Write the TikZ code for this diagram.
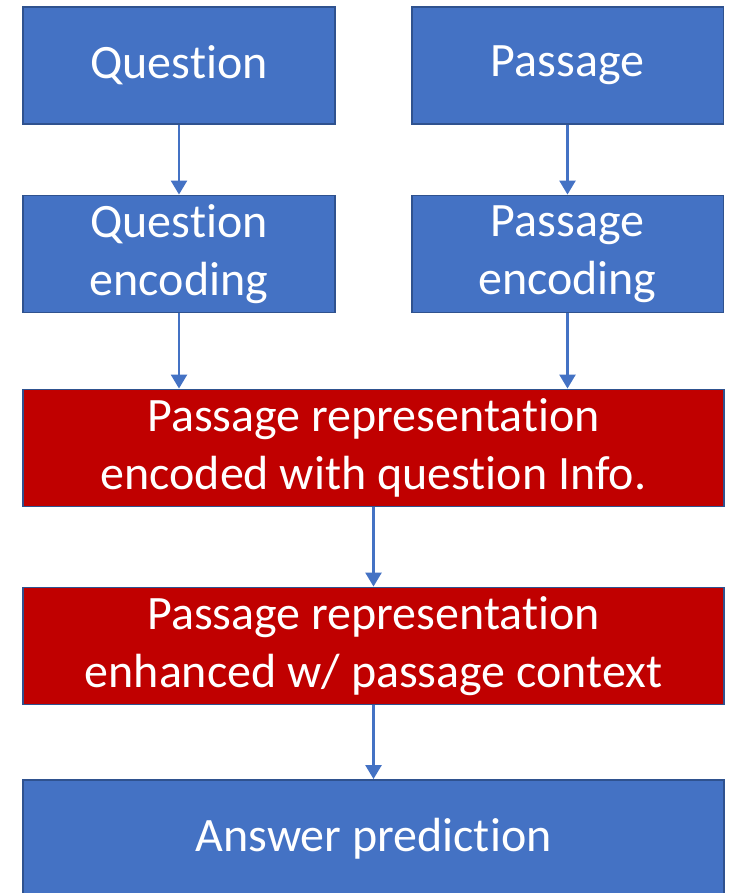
\documentclass[tikz,border=0pt]{standalone}
\usepackage{fontspec}
\setmainfont{Carlito}[Ligatures=NoCommon]
\usepackage{tikz}
\usetikzlibrary{arrows.meta,positioning,calc}
\definecolor{boxblue}{HTML}{4472C4}
\definecolor{edgeblue}{HTML}{2F528F}
\definecolor{boxred}{HTML}{C00000}
\begin{document}
\begin{tikzpicture}[x=0.02cm, y=-0.02cm,
    blk/.style={draw=edgeblue, line width=1.1pt, fill=boxblue, text=white, align=center,
        minimum width=6.24cm, minimum height=2.34cm, inner sep=0pt,
        font=\fontsize{27.3}{33}\selectfont},
    wide/.style={blk, minimum width=14.02cm},
    hot/.style={wide, fill=boxred},
    arr/.style={-{Triangle[width=0.32cm, length=0.28cm]}, line width=1.5pt, boxblue}
]
\useasboundingbox (0,0) rectangle (737,893);
\node[blk] (Q) at (179,65.5) {Question};
\node[blk] (P) at (567.5,65.5) {Passage};
\node[blk] (QE) at (179,254) {Question\\encoding};
\node[blk] (PE) at (567.5,254) {Passage\\encoding};
\node[hot] (R1) at (373.5,448) {Passage representation\\encoded with question Info.};
\node[hot] (R2) at (373.5,646) {Passage representation\\enhanced w/ passage context};
\node[wide] (A) at (373.5,838.5) {Answer prediction};

\draw[arr] (Q) -- (QE);
\draw[arr] (P) -- (PE);
\draw[arr] (QE.south) -- (QE.south |- R1.north);
\draw[arr] (PE.south) -- (PE.south |- R1.north);
\draw[arr] (R1) -- (R2);
\draw[arr] (R2) -- (A);
\end{tikzpicture}
\end{document}
